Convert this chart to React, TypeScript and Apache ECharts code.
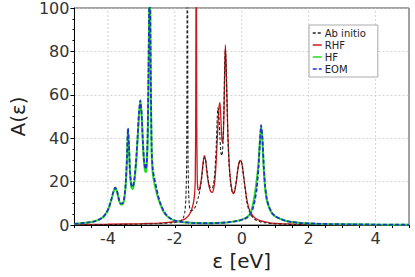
import React, { useEffect, useRef } from "react";
import * as echarts from "echarts";

// ---- Data ----
const xTickLabels = [-4, -2, 0, 2, 4];
const yTicks = [0, 20, 40, 60, 80, 100];

const hfX = [-5, -4.8, -4.6, -4.4, -4.25, -4.15, -4.05, -3.97, -3.9, -3.84, -3.78, -3.73, -3.68, -3.62, -3.56, -3.51, -3.47, -3.43, -3.4, -3.37, -3.34, -3.3, -3.26, -3.21, -3.16, -3.11, -3.07, -3.03, -2.99, -2.95, -2.91, -2.87, -2.84, -2.81, -2.785, -2.76, -2.75, -2.74, -2.715, -2.69, -2.66, -2.62, -2.57, -2.5, -2.42, -2.33, -2.24, -2.14, -2.0, -1.8, -1.5, -1.2, -0.9, -0.6, -0.4, -0.2, -0.05, 0.05, 0.15, 0.25, 0.33, 0.4, 0.45, 0.5, 0.54, 0.58, 0.62, 0.66, 0.7, 0.75, 0.82, 0.9, 1.0, 1.15, 1.3, 1.5, 1.8, 2.2, 2.7, 3.3, 4.0, 5.0];
const hfY = [0.5, 0.8, 1.1, 1.7, 2.6, 3.6, 5.5, 8, 11.5, 15, 17.2, 15.5, 12, 9.5, 9.5, 12, 18, 30, 44.5, 36, 24, 17.5, 16.5, 20, 28, 40, 51, 57.4, 50, 36, 27, 24.3, 27, 40, 70, 110, 140, 110, 60, 32, 24, 20, 16.5, 12.5, 9, 6, 4.2, 3, 2, 1.4, 1, 0.8, 0.8, 1, 1.3, 1.7, 2.2, 2.8, 3.6, 5.2, 9, 15, 21, 28, 38, 45.5, 38, 25, 17, 11.5, 8, 5.5, 4, 2.8, 2, 1.4, 0.9, 0.6, 0.4, 0.3, 0.2, 0.1];

const eomX = hfX;
const eomY = [0.5, 0.8, 1.1, 1.7, 2.6, 3.6, 5.5, 8, 11.5, 15, 17.2, 15.8, 12.5, 10, 10, 12.5, 18.5, 31, 44.5, 37, 25, 18.5, 17.5, 21, 29, 41, 52, 57.4, 51, 37, 28.5, 25.8, 28.5, 42, 72, 110, 140, 110, 62, 34, 26, 22, 18.5, 13.5, 9.5, 6.3, 4.4, 3.1, 2, 1.4, 1, 0.8, 0.8, 1, 1.3, 1.7, 2.1, 2.6, 3.3, 4.8, 7.5, 12, 17, 26, 37, 46, 40, 27, 18, 12, 8.3, 5.7, 4.1, 2.9, 2, 1.4, 0.9, 0.6, 0.4, 0.3, 0.2, 0.1];

const rhfX = [-5, -4, -3, -2.5, -2.2, -2.0, -1.85, -1.72, -1.62, -1.54, -1.47, -1.42, -1.39, -1.375, -1.36, -1.345, -1.33, -1.31, -1.28, -1.24, -1.2, -1.16, -1.12, -1.08, -1.03, -0.98, -0.93, -0.88, -0.84, -0.8, -0.76, -0.72, -0.68, -0.65, -0.62, -0.59, -0.56, -0.53, -0.51, -0.49, -0.47, -0.44, -0.41, -0.37, -0.33, -0.29, -0.25, -0.21, -0.17, -0.13, -0.09, -0.05, -0.02, 0.02, 0.06, 0.1, 0.15, 0.2, 0.26, 0.33, 0.42, 0.55, 0.7, 0.9, 1.2, 1.6, 2.2, 3.0, 4.0, 5.0];
const rhfY = [0.2, 0.35, 0.6, 0.9, 1.2, 1.5, 1.9, 2.6, 3.8, 5.5, 8.5, 12.5, 20, 50, 150, 50, 22, 16.5, 16, 18, 22, 28, 32, 30, 23, 18, 15.5, 15, 16.5, 21, 30, 43, 54, 56.5, 48, 39, 38, 52, 70, 83, 76, 58, 40, 27, 20, 16, 14.5, 15.5, 19, 24, 28, 29.8, 29.5, 27, 22, 17.5, 12, 8.5, 6, 4.3, 3, 2, 1.4, 0.9, 0.6, 0.4, 0.25, 0.15, 0.1, 0.05];

const abX = [-5, -4, -3, -2.5, -2.1, -1.9, -1.8, -1.74, -1.7, -1.67, -1.645, -1.625, -1.605, -1.585, -1.565, -1.54, -1.5, -1.45, -1.4, -1.35, -1.3, -1.25, -1.2, -1.16, -1.12, -1.08, -1.03, -0.98, -0.93, -0.88, -0.84, -0.8, -0.76, -0.73, -0.71, -0.68, -0.65, -0.62, -0.59, -0.56, -0.53, -0.51, -0.49, -0.47, -0.44, -0.41, -0.37, -0.33, -0.29, -0.25, -0.21, -0.17, -0.13, -0.09, -0.05, -0.02, 0.02, 0.06, 0.1, 0.15, 0.2, 0.26, 0.33, 0.42, 0.55, 0.7, 0.9, 1.2, 1.6, 2.2, 3.0, 4.0, 5.0];
const abY = [0.1, 0.2, 0.4, 0.6, 1, 1.5, 2.2, 3.5, 6, 12, 30, 150, 30, 14, 9, 7, 6.5, 7, 8, 10, 12.5, 16, 21, 27, 31, 30, 24, 19, 17, 17, 19, 25, 37, 50, 54, 50, 40, 33, 32, 38, 55, 72, 81, 75, 57, 39, 26, 19, 15.5, 14.5, 16, 19.5, 24, 28, 29.5, 29.5, 27, 22, 17, 11, 7.5, 5, 3.5, 2.3, 1.5, 1, 0.6, 0.4, 0.2, 0.15, 0.1, 0.05, 0.03];

const zip = (xs: number[], ys: number[]) => xs.map((x, i) => [x, ys[i]]);

export default function App() {
  const ref = useRef<HTMLDivElement>(null);
  useEffect(() => {
    if (!ref.current) return;
    const chart = echarts.init(ref.current, undefined, { renderer: "svg" });
    const font = "DejaVu Sans";
    const gridSeries = xTickLabels.map((t) => ({
      name: "grid" + t,
      type: "line",
      data: [
        [t, yTicks[0]],
        [t, yTicks[yTicks.length - 1]],
      ],
      symbol: "none",
      silent: true,
      z: 1,
      lineStyle: { color: "#c8c8c8", type: [2, 2], width: 0.8 },
    }));
    chart.setOption({
      animation: false,
      backgroundColor: "#fff",
      textStyle: { fontFamily: font },
      grid: {
        left: 65,
        right: 6,
        top: 6,
        bottom: 52,
        show: true,
        borderColor: "#444",
        borderWidth: 1,
      },
      legend: {
        orient: "vertical",
        left: 309,
        top: 25,
        data: ["Ab initio", "RHF", "HF", "EOM"],
        itemWidth: 9,
        itemHeight: 10,
        itemGap: 2,
        padding: [3, 12, 3, 3],
        backgroundColor: "#fff",
        borderColor: "#aaa",
        borderWidth: 1,
        borderRadius: 0,
        itemStyle: { color: "rgba(0,0,0,0)", borderWidth: 0 },
        lineStyle: { width: 1.5 },
        textStyle: { fontSize: 10, color: "#222", fontFamily: font, lineHeight: 10, padding: [0, 0, 0, -2] },
      },
      xAxis: {
        type: "value",
        min: -5,
        max: 5,
        interval: 0.5,
        name: "ε [eV]",
        nameLocation: "middle",
        nameGap: 17,
        nameTextStyle: { fontSize: 20, color: "#222", fontFamily: font },
        axisLine: { onZero: false, lineStyle: { color: "#000", width: 1 } },
        axisTick: { length: 3, lineStyle: { color: "#000" } },
        axisLabel: {
          fontSize: 16,
          color: "#333",
          margin: 5,
          fontFamily: font,
          formatter: (v: number) => (xTickLabels.some((t) => Math.abs(t - v) < 1e-9) ? String(v) : ""),
        },
        splitLine: { show: false },
      },
      yAxis: {
        type: "value",
        min: 0,
        max: 100,
        interval: 20,
        name: "A(ε)",
        nameLocation: "middle",
        nameGap: 40,
        nameTextStyle: { fontSize: 20, color: "#222", fontFamily: font },
        axisLine: { show: true, onZero: false, lineStyle: { color: "#000", width: 1 } },
        axisTick: { show: true, length: 4, lineStyle: { color: "#000" } },
        minorTick: { show: true, splitNumber: 4, length: 2, lineStyle: { color: "#000" } },
        axisLabel: {
          fontSize: 16,
          color: "#333",
          margin: 5,
          fontFamily: font,
          formatter: (v: number) => (yTicks.includes(v) ? String(v) : ""),
        },
        splitLine: { show: true, lineStyle: { color: "#c8c8c8", type: [2, 2], width: 0.8 } },
      },
      series: [
        ...gridSeries,
        {
          name: "RHF",
          type: "line",
          data: zip(rhfX, rhfY),
          showSymbol: false,
          symbol: "none",
          smooth: 0.2,
          z: 2,
          lineStyle: { color: "#d01818", width: 1.3 },
          itemStyle: { color: "#d01818" },
        },
        {
          name: "Ab initio",
          type: "line",
          data: zip(abX, abY),
          showSymbol: false,
          symbol: "none",
          smooth: 0.2,
          z: 3,
          lineStyle: { color: "#222", width: 1.1, type: [3, 2] },
          itemStyle: { color: "#222" },
        },
        {
          name: "HF",
          type: "line",
          data: zip(hfX, hfY),
          showSymbol: false,
          symbol: "none",
          smooth: 0.2,
          z: 4,
          lineStyle: { color: "#22dd22", width: 2 },
          itemStyle: { color: "#22dd22" },
        },
        {
          name: "EOM",
          type: "line",
          data: zip(eomX, eomY),
          showSymbol: false,
          symbol: "none",
          smooth: 0.2,
          z: 5,
          lineStyle: { color: "#2233cc", width: 1.8, type: [4, 2] },
          itemStyle: { color: "#2233cc" },
        },
      ],
    });
    return () => chart.dispose();
  }, []);
  return (
    <div
      ref={ref}
      style={{ position: "fixed", left: 0, top: 0, width: 415, height: 277 }}
    />
  );
}
